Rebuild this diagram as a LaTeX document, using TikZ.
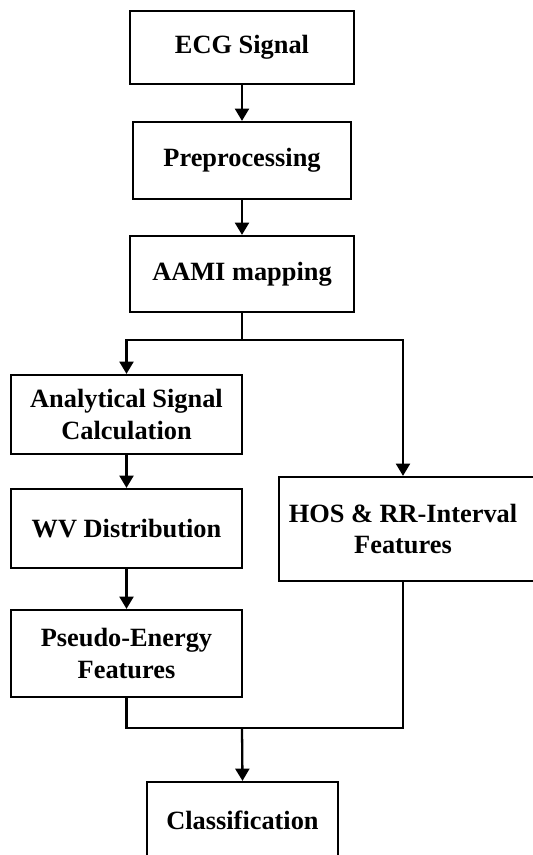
\documentclass[tikz,border=0pt]{standalone}
\usepackage{fontspec}
\setmainfont{Liberation Serif}
\usetikzlibrary{arrows.meta}

\begin{document}
\begin{tikzpicture}[x=0.02cm, y=-0.02cm,
    box/.style={draw, line width=1.3pt, inner sep=0pt, align=center,
      font=\fontsize{15}{18}\selectfont\bfseries},
    line/.style={line width=1.3pt},
    arr/.style={line width=1.3pt, -{Triangle[width=8pt,length=7pt]}}]
    \useasboundingbox (0,0) rectangle (533,855);
    \clip (0,0) rectangle (533,855);
    \node[box, minimum width=4.48cm, minimum height=1.46cm] (ecg) at (242,47.5) {ECG Signal};
    \node[box, minimum width=4.36cm, minimum height=1.54cm] (pre) at (242,160.5) {Preprocessing};
    \node[box, minimum width=4.48cm, minimum height=1.52cm] (aami) at (242,274) {AAMI mapping};
    \node[box, minimum width=4.62cm, minimum height=1.58cm] (anal) at (126.5,414.5) {Analytical Signal\\Calculation};
    \node[box, minimum width=4.62cm, minimum height=1.58cm] (wv) at (126.5,528.5) {WV Distribution};
    \node[box, minimum width=4.62cm, minimum height=1.74cm] (pse) at (126.5,653.5) {Pseudo-Energy\\Features};
    \node[box, minimum width=5.32cm, minimum height=2.08cm] (hosbox) at (412,529) {};
    \node[box, draw=none] (hos) at (403,529) {HOS \& RR-Interval\\Features};
    \node[box, minimum width=3.82cm, minimum height=1.52cm] (cls) at (242.5,820) {Classification};
    \coordinate (split) at (242,340);
    \coordinate (join) at (242,728);
    \draw[arr] (ecg) -- (pre);
    \draw[arr] (pre) -- (aami);
    \draw[line] (aami.south) -- (split);
    \draw[arr] (split) -| (anal.north);
    \draw[arr] (split) -| (hosbox.north -| hos);
    \draw[arr] (anal) -- (wv);
    \draw[arr] (wv) -- (pse);
    \draw[line] (pse.south) |- (join);
    \draw[line] (hosbox.south -| hos) |- (join);
    \draw[arr] (join) -- (cls.north);
\end{tikzpicture}
\end{document}
